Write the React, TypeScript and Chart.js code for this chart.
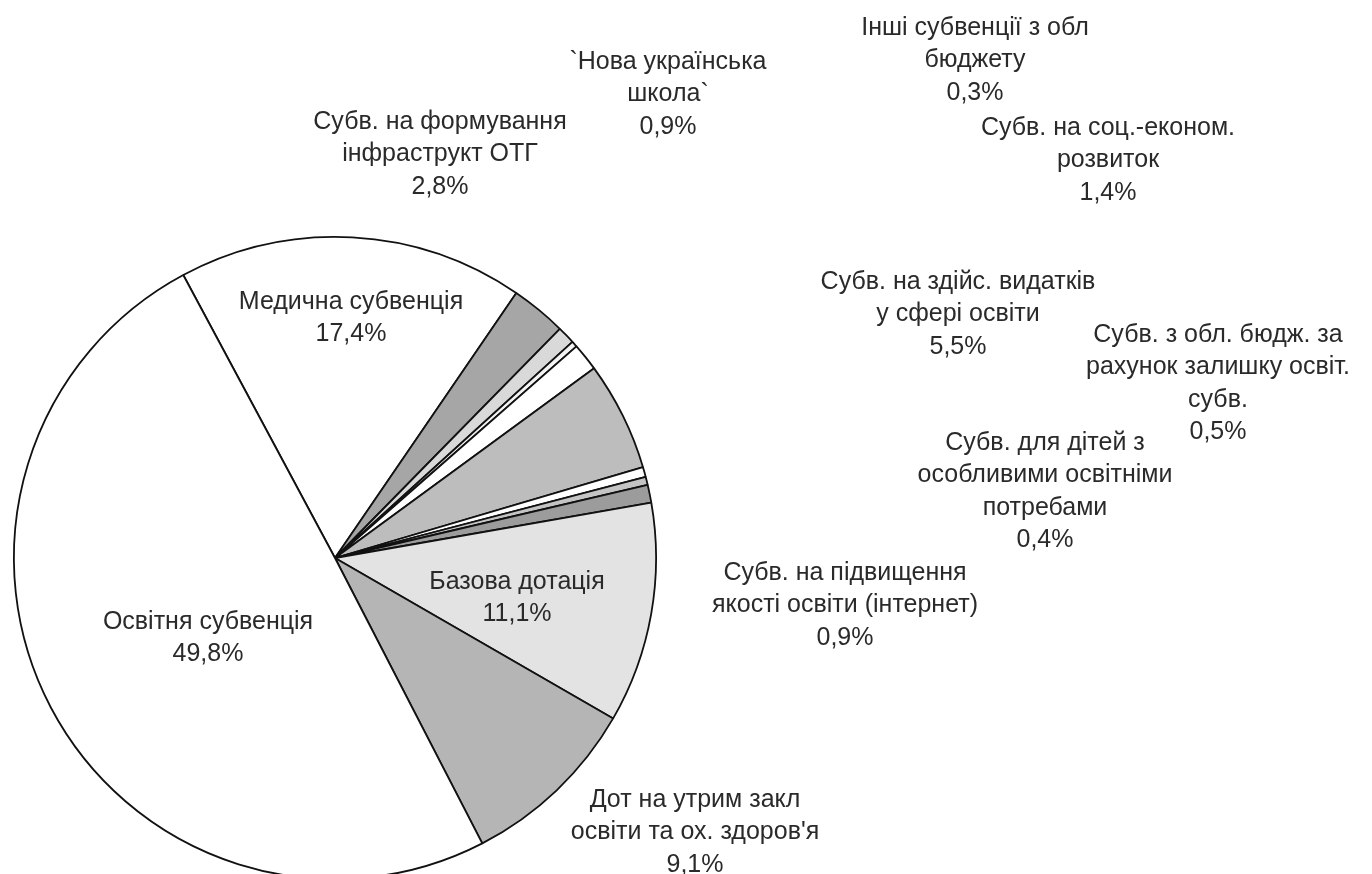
import React, { useEffect, useRef } from "react";
import { Chart, registerables } from "chart.js";

Chart.register(...registerables);

const categories: string[] = [
  "Медична субвенція",
  "Субв. на формування інфраструкт ОТГ",
  "`Нова українська школа`",
  "Інші субвенції з обл бюджету",
  "Субв. на соц.-економ. розвиток",
  "Субв. на здійс. видатків у сфері освіти",
  "Субв. з обл. бюдж. за рахунок залишку освіт. субв.",
  "Субв. для дітей з особливими освітніми потребами",
  "Субв. на підвищення якості освіти (інтернет)",
  "Базова дотація",
  "Дот на утрим закл освіти та ох. здоров'я",
  "Освітня субвенція",
];

const shares: number[] = [17.4, 2.8, 0.9, 0.3, 1.4, 5.5, 0.5, 0.4, 0.9, 11.1, 9.1, 49.8];

const labelLines: string[][] = [
  ["Медична субвенція", "17,4%"],
  ["Субв. на формування", "інфраструкт ОТГ", "2,8%"],
  ["`Нова українська", "школа`", "0,9%"],
  ["Інші субвенції з обл", "бюджету", "0,3%"],
  ["Субв. на соц.-економ.", "розвиток", "1,4%"],
  ["Субв. на здійс. видатків", "у сфері освіти", "5,5%"],
  ["Субв. з обл. бюдж. за", "рахунок залишку освіт.", "субв.", "0,5%"],
  ["Субв. для дітей з", "особливими освітніми", "потребами", "0,4%"],
  ["Субв. на підвищення", "якості освіти (інтернет)", "0,9%"],
  ["Базова дотація", "11,1%"],
  ["Дот на утрим закл", "освіти та ох. здоров'я", "9,1%"],
  ["Освітня субвенція", "49,8%"],
];

// layout: centre x and first-line y of each label block
const labelAnchors: [number, number][] = [
  [351, 302],
  [440, 122],
  [668, 62],
  [975, 28],
  [1108, 128],
  [958, 282],
  [1218, 335],
  [1045, 443],
  [845, 573],
  [517, 582],
  [695, 800],
  [208, 622],
];

const sliceColors: string[] = [
  "#ffffff",
  "#a6a6a6",
  "#d9d9d9",
  "#f4f4f4",
  "#ffffff",
  "#bdbdbd",
  "#ffffff",
  "#c4c4c4",
  "#9c9c9c",
  "#e3e3e3",
  "#b5b5b5",
  "#ffffff",
];

const labelPlugin = {
  id: "sliceLabels",
  afterDatasetsDraw(chart: any) {
    const ctx = chart.ctx;
    ctx.save();
    ctx.font = '25px "Liberation Sans", Arial, sans-serif';
    ctx.fillStyle = "#2a2a2a";
    ctx.textAlign = "center";
    ctx.textBaseline = "middle";
    labelLines.forEach((lines, i) => {
      const [x, y] = labelAnchors[i];
      lines.forEach((t, j) => ctx.fillText(t, x, y + j * 32.5));
    });
    ctx.restore();
  },
};

export default function App() {
  const ref = useRef<HTMLCanvasElement | null>(null);
  useEffect(() => {
    if (!ref.current) return;
    const chart = new Chart(ref.current, {
      type: "pie",
      data: {
        labels: categories,
        datasets: [
          {
            data: shares,
            backgroundColor: sliceColors,
            borderColor: "#111111",
            borderWidth: 1.8,
          },
        ],
      },
      options: {
        responsive: false,
        animation: false,
        devicePixelRatio: 1,
        rotation: -28.2,
        layout: { padding: { left: 13, top: 236, right: 715, bottom: 20 } },
        plugins: {
          legend: { display: false },
          tooltip: { enabled: false },
        },
      },
      plugins: [labelPlugin],
    });
    return () => chart.destroy();
  }, []);
  return (
    <div
      style={{
        position: "fixed",
        top: 0,
        left: 0,
        width: 1372,
        height: 874,
        overflow: "hidden",
        background: "#ffffff",
      }}
    >
      <canvas ref={ref} width={1372} height={900} style={{ display: "block" }} />
    </div>
  );
}
